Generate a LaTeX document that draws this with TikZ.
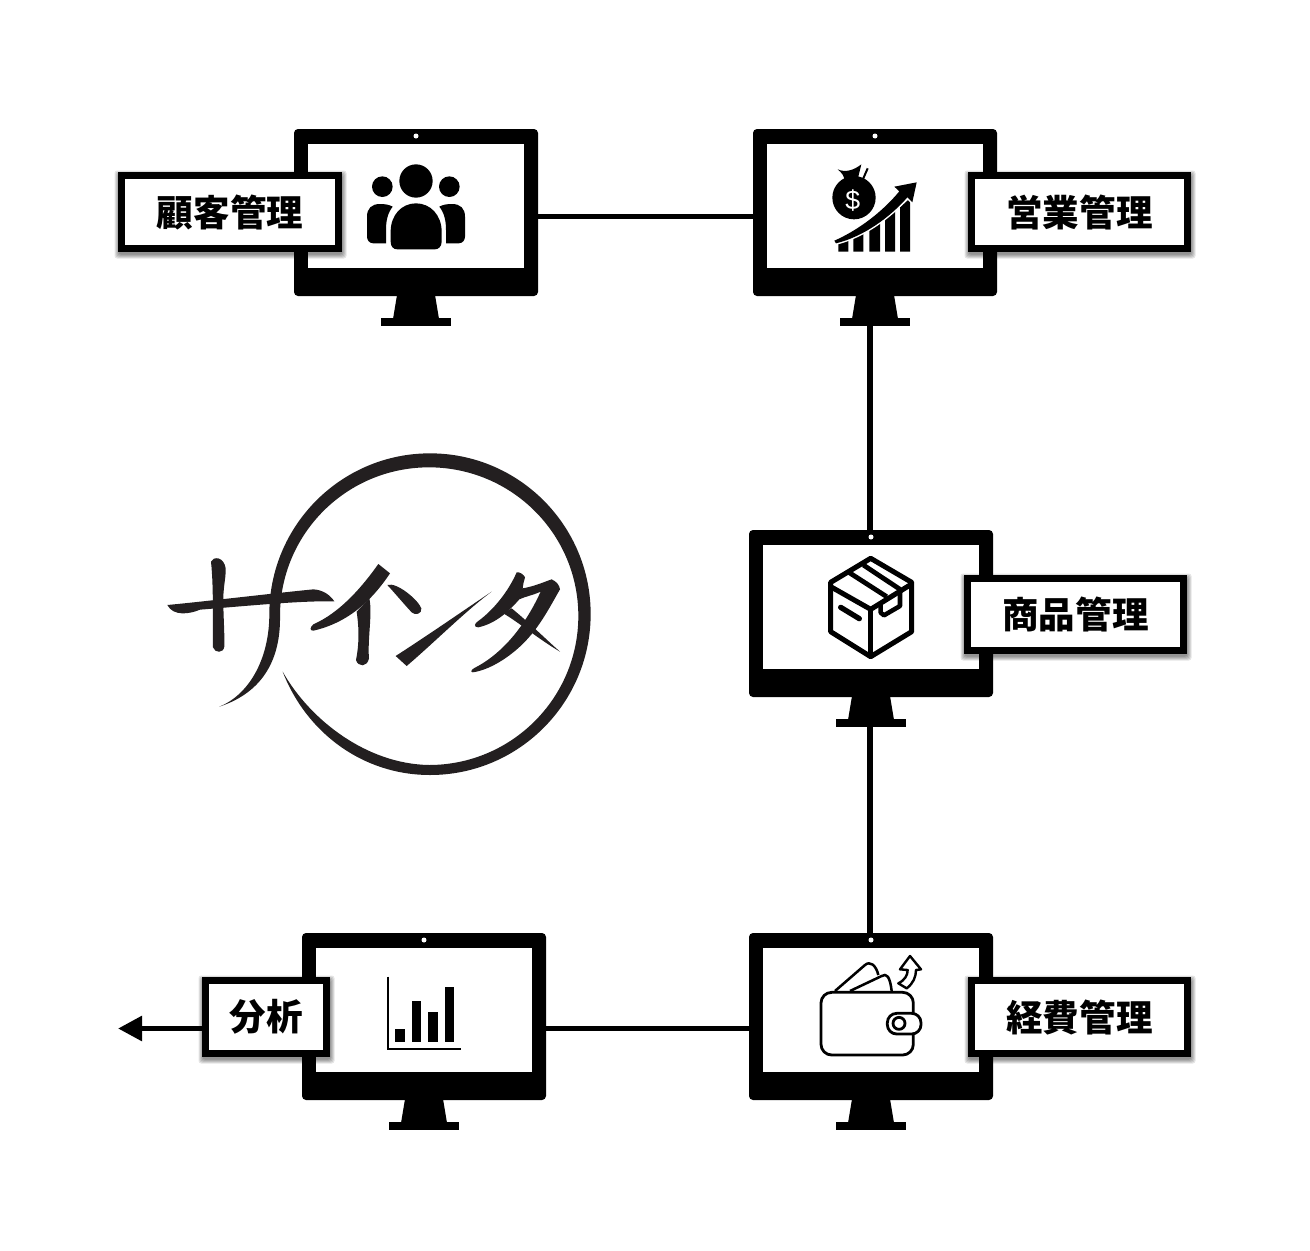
\documentclass[tikz,border=0pt]{standalone}
\usepackage{fontspec}
\newfontfamily\cjk{Noto Sans CJK JP}
\newfontfamily\dollarfont{Liberation Sans}
\usetikzlibrary{arrows.meta}
\definecolor{logoink}{HTML}{231F20}
\tikzset{
  monbody/.style={fill=black,rounded corners=3pt,inner sep=0pt,outer sep=0pt,minimum width=183pt,minimum height=125.25pt},
  monbase/.style={fill=black,inner sep=0pt,outer sep=0pt,minimum width=52.5pt,minimum height=6pt},
  labelbox/.style={draw=black,fill=white,line width=5.25pt,inner sep=0pt,font=\cjk\bfseries\fontsize{27.4}{30}\selectfont},
  conn/.style={draw=black,line width=4.2pt},
  zoomed/.style={scale=0.33333},
}
\newcommand{\monitor}[3]{%
  \node[monbody] (#1) at ({#2+122},{#3+83.5}) {};
  \fill[white] (#2+14,#3+15) rectangle (#2+230,#3+139);
  \fill[white] (#2+122,#3+7) circle (2.5);
  \fill[black] (#2+103,#3+166) -- (#2+141,#3+166) -- (#2+145,#3+190) -- (#2+99,#3+190) -- cycle;
  \node[monbase] (#1b) at ({#2+122},{#3+193}) {};
}
\newcommand{\labelnode}[6]{%
  \foreach \e in {0,1,2,3,4}{
    \fill[black,opacity=.1,rounded corners=2pt] ({#2-\e+.5},{#3-\e+2.5}) rectangle ({#4+\e+.5},{#5+\e+2.5});
  }
  \node[labelbox,minimum width={(#4-#2-7)*0.75pt},minimum height={(#5-#3-7)*0.75pt}] (#1) at ({(#2+#4)/2},{(#3+#5)/2}) {#6};
}
\begin{document}
\begin{tikzpicture}[x=.75pt,y=-.75pt]
\useasboundingbox (0,0) rectangle (1310,1250);
\fill[white] (0,0) rectangle (1310,1250);
% logo
\begin{scope}[shift={(150,440)},zoomed]
\fill[logoink] (208,800) .. controls (295,765) and (358,660) .. (358,522)
  .. controls (358,256) and (574,40) .. (840,40)
  .. controls (1106,40) and (1322,256) .. (1322,522)
  .. controls (1322,789) and (1106,1005) .. (840,1005)
  .. controls (640,1005) and (470,880) .. (398,695)
  .. controls (480,840) and (650,972) .. (837,975)
  .. controls (1084,975) and (1285,775) .. (1285,528)
  .. controls (1285,281) and (1084,82) .. (837,82)
  .. controls (590,82) and (390,281) .. (390,528)
  .. controls (392,650) and (345,755) .. (208,800) -- cycle;
\fill[logoink] (52,495) .. controls (150,486) and (350,462) .. (490,448)
  .. controls (520,450) and (540,465) .. (553,484)
  .. controls (450,482) and (300,497) .. (150,509)
  .. controls (120,522) and (70,530) .. (52,495) -- cycle;
\fill[logoink] (183,365) .. controls (190,348) and (222,350) .. (227,385)
  .. controls (228,420) and (218,440) .. (220,500)
  .. controls (222,560) and (224,600) .. (223,620)
  .. controls (220,640) and (195,640) .. (189,622)
  .. controls (187,560) and (192,450) .. (183,365) -- cycle;
\fill[logoink] (685,372) -- (720,400) .. controls (680,460) and (610,545) .. (490,572)
  .. controls (478,572) and (480,562) .. (490,553)
  .. controls (565,520) and (630,450) .. (685,372) -- cycle;
\fill[logoink] (658,475) .. controls (668,520) and (652,600) .. (657,655)
  .. controls (652,682) and (625,682) .. (618,660)
  .. controls (630,600) and (625,550) .. (620,515) -- cycle;
\fill[logoink] (712,435) .. controls (740,425) and (805,480) .. (814,505)
  .. controls (817,522) and (795,527) .. (785,517)
  .. controls (760,490) and (735,460) .. (712,435) -- cycle;
\fill[logoink] (737,648) .. controls (850,575) and (950,505) .. (1025,455)
  .. controls (950,510) and (850,610) .. (770,678) -- cycle;
\fill[logoink] (1100,397) .. controls (1110,395) and (1122,405) .. (1125,412)
  .. controls (1122,425) and (1118,435) .. (1118,445)
  .. controls (1150,440) and (1185,425) .. (1205,418)
  .. controls (1220,425) and (1228,435) .. (1230,448)
  .. controls (1200,500) and (1170,560) .. (1120,610)
  .. controls (1080,650) and (1020,690) .. (968,697)
  .. controls (960,695) and (965,688) .. (975,683)
  .. controls (1040,650) and (1115,580) .. (1172,455)
  .. controls (1150,465) and (1125,470) .. (1108,478)
  .. controls (1080,510) and (1040,550) .. (985,562)
  .. controls (970,562) and (973,550) .. (985,543)
  .. controls (1030,510) and (1075,455) .. (1100,397) -- cycle;
\fill[logoink] (1085,505) .. controls (1140,550) and (1190,600) .. (1230,635)
  .. controls (1170,600) and (1110,550) .. (1060,520) -- cycle;
\end{scope}
% connector guides
\coordinate (htop) at (640,216.5);
\coordinate (hbot) at (640,1028.5);
\coordinate (vline) at (870,400);
\coordinate (tip) at (118,1028.5);
% monitors
\monitor{m1}{294}{129}
\monitor{m2}{753}{129}
\monitor{m3}{749}{530}
\monitor{m4}{749}{933}
\monitor{m5}{302}{933}
% connectors
\draw[conn] (m1.east |- htop) -- (m2.west |- htop);
\draw[conn,line width=4.4pt] (m2b.south -| vline) -- (m3.north -| vline);
\draw[conn,line width=4.4pt] (m3b.south -| vline) -- (m4.north -| vline);
\draw[conn] (m5.east |- hbot) -- (m4.west |- hbot);
% people icon
\begin{scope}[shift={(110,120)},zoomed]
\fill[black] (918,183) circle (50);
\fill[black] (817,200) circle (31);
\fill[black] (1018,200) circle (31);
\fill[black] (771,290) .. controls (771,265) and (785,252) .. (810,252)
  .. controls (825,252) and (838,254) .. (848,260)
  .. controls (832,280) and (828,305) .. (828,330) -- (828,370) -- (790,370)
  .. controls (778,370) and (771,360) .. (771,350) -- cycle;
\fill[black] (1065,290) .. controls (1065,265) and (1051,252) .. (1026,252)
  .. controls (1011,252) and (998,254) .. (988,260)
  .. controls (1004,280) and (1008,305) .. (1008,330) -- (1008,370) -- (1046,370)
  .. controls (1058,370) and (1065,360) .. (1065,350) -- cycle;
\fill[black] (842,335) .. controls (842,285) and (875,250) .. (918,250)
  .. controls (961,250) and (995,285) .. (995,335) -- (995,365)
  .. controls (995,380) and (985,388) .. (975,388) -- (862,388)
  .. controls (850,388) and (842,380) .. (842,365) -- cycle;
\end{scope}
% sales icon
\begin{scope}[shift={(750,120)},zoomed]
\fill[black] (312,233) circle (65);
\fill[black] (263,148) .. controls (285,158) and (310,152) .. (334,133) -- (322,182) -- (282,182) .. controls (285,170) and (275,158) .. (263,148) -- cycle;
\draw[black,line width=1.5pt] (353,145) -- (337,182);
\node[text=white,font=\dollarfont\fontsize{20}{22}\selectfont,inner sep=0pt] (dollar) at (308,243) {\$};
\fill[black] (265,395) -- (265,372) -- (295,358) -- (295,395) -- cycle;
\fill[black] (310,395) -- (310,350) -- (340,335) -- (340,395) -- cycle;
\fill[black] (358,395) -- (358,325) -- (390,305) -- (390,395) -- cycle;
\fill[black] (405,395) -- (405,295) -- (435,272) -- (435,395) -- cycle;
\fill[black] (450,395) -- (450,262) -- (480,235) -- (480,395) -- cycle;
\path[fill=black,preaction={draw=white,line width=2.2pt}] (253,362) .. controls (330,328) and (400,272) .. (448,214)
  -- (433,200) -- (500,187) -- (487,247) -- (472,232)
  .. controls (420,292) and (340,350) .. (258,370) -- cycle;
\end{scope}
% box icon
\begin{scope}[shift={(750,530)},zoomed,line join=round]
\draw[black,line width=3.8pt] (362,85) -- (485,157) -- (485,305) -- (362,380) -- (242,305) -- (242,157) -- cycle;
\draw[black,line width=3.8pt] (242,170) -- (362,238) -- (485,162);
\draw[black,line width=3.8pt] (362,238) -- (362,380);
\draw[black,line width=3.6pt] (298,128) -- (410,200);
\draw[black,line width=3.6pt] (340,105) -- (450,178);
\draw[black,line width=3.4pt] (450,180) -- (450,228) -- (402,256) -- (392,248) -- (392,222);
\draw[black,line width=4pt,line cap=round] (272,232) -- (328,266);
\end{scope}
% wallet icon
\begin{scope}[shift={(750,930)},zoomed,line join=round]
\draw[black,line width=1.9pt] (255,183) -- (345,105) .. controls (360,92) and (378,105) .. (385,135);
\draw[black,line width=1.9pt] (300,183) -- (395,138) .. controls (410,128) and (420,140) .. (425,183);
\draw[black,line width=2.1pt,rounded corners=8pt] (213,187) rectangle (490,375);
\draw[black,fill=white,line width=2.1pt,rounded corners=7pt] (412,250) rectangle (513,312);
\draw[black,line width=2.1pt] (447,280) circle (18);
\draw[black,line width=1.8pt] (480,78) -- (513,118) -- (498,120) .. controls (498,140) and (490,160) .. (470,175) -- (445,160) .. controls (465,150) and (473,135) .. (473,120) -- (450,118) -- cycle;
\end{scope}
% chart icon
\begin{scope}[shift={(110,930)},zoomed]
\draw[black,line width=1.5pt] (833,140) -- (833,358) -- (1053,358);
\fill[black] (856,297) rectangle (885,336);
\fill[black] (906,213) rectangle (933,336);
\fill[black] (955,246) rectangle (984,336);
\fill[black] (1005,171) rectangle (1032,336);
\end{scope}
% labels
\labelnode{l1}{118}{172}{342}{252}{顧客管理}
\labelnode{l2}{968}{172}{1191}{252}{営業管理}
\labelnode{l3}{964}{575}{1187}{654}{商品管理}
\labelnode{l4}{968}{977}{1191}{1057}{経費管理}
\labelnode{l5}{202}{977}{330}{1057}{分析}
\draw[conn,-{Triangle[length=18pt,width=18pt]}] (l5.west |- tip) -- (tip);
\end{tikzpicture}
\end{document}
